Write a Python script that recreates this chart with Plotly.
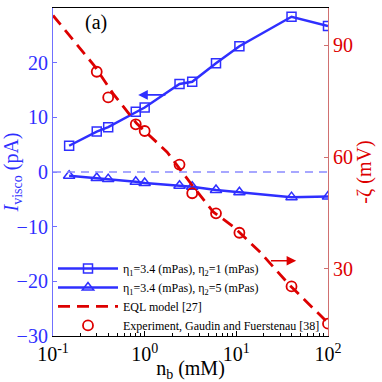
import plotly.graph_objects as go
import math

# ---- data ----
nb = [0.15, 0.3, 0.4, 0.8, 1.0, 2.4, 3.3, 6.0, 10.8, 40, 100]
i_visco_eta2_1 = [4.8, 7.4, 8.2, 11.0, 11.8, 16.1, 16.5, 19.9, 23.0, 28.4, 26.7]
i_visco_eta2_5 = [-0.7, -1.1, -1.3, -1.8, -2.0, -2.5, -2.7, -3.3, -3.7, -4.6, -4.5]
nb_exp = [0.3, 0.4, 0.8, 1.0, 2.4, 3.3, 6.0, 10.8, 40, 100]
zeta_exp = [82.9, 76.0, 68.8, 67.0, 58.0, 50.3, 44.9, 39.7, 25.3, 15.3]
nb_model = [0.1, 0.28, 0.45, 0.82, 1.75, 3.4, 5.6, 9.3, 18, 38, 100]
zeta_model = [98.0, 84.6, 77.1, 69.0, 61.4, 52.0, 45.3, 41.3, 34.6, 25.7, 15.5]
x_ticks = [0.1, 1, 10, 100]
x_ticktext = ["10<sup>-1</sup>", "10<sup>0</sup>", "10<sup>1</sup>", "10<sup>2</sup>"]
x_minor_ticks = [m * d for d in (0.1, 1, 10) for m in range(2, 10)]

BLUE = "#2f2fff"
RED = "#dd0000"
FONT = "Liberation Serif, Times New Roman, serif"

fig = go.Figure()
fig.add_trace(go.Scatter(
    x=nb, y=i_visco_eta2_1, mode="lines+markers",
    name="η<sub>1</sub>=3.4 (mPas), η<sub>2</sub>=1 (mPas)",
    line=dict(color=BLUE, width=2.5),
    marker=dict(symbol="square-open", size=9, color=BLUE, line=dict(width=1.5)),
))
fig.add_trace(go.Scatter(
    x=nb, y=i_visco_eta2_5, mode="lines+markers",
    name="η<sub>1</sub>=3.4 (mPas), η<sub>2</sub>=5 (mPas)",
    line=dict(color=BLUE, width=2.5),
    marker=dict(symbol="triangle-up-open", size=10, color=BLUE, line=dict(width=1.5)),
))
fig.add_trace(go.Scatter(
    x=nb_model, y=zeta_model, mode="lines", yaxis="y2",
    name="EQL model [27]",
    line=dict(color=RED, width=2.8, dash="12px,7px"),
))
fig.add_trace(go.Scatter(
    x=nb_exp, y=zeta_exp, mode="markers", yaxis="y2",
    name="Experiment, Gaudin and Fuerstenau [38]",
    marker=dict(symbol="circle-open", size=10, color=RED, line=dict(width=1.8)),
))

fig.add_hline(y=0, line=dict(color="#8a8aff", width=1.3, dash="8px,6px"))

fig.update_layout(
    width=382, height=382,
    margin=dict(l=53, r=54, t=8, b=46),
    paper_bgcolor="white", plot_bgcolor="white",
    font=dict(family=FONT, size=20, color="black"),
    showlegend=True,
    legend=dict(x=0, y=-0.012, xanchor="left", yanchor="bottom",
                bgcolor="rgba(0,0,0,0)", font=dict(size=12, family=FONT),
                tracegroupgap=0, itemwidth=60),
    xaxis=dict(type="log", range=[-1, 2], tickvals=x_ticks, ticktext=x_ticktext,
               showgrid=False, zeroline=False, showline=True, linecolor="black",
               linewidth=1, mirror=True, ticks="inside", ticklen=5, tickcolor="black",
               tickfont=dict(size=20, family=FONT, color="black"),
               minor=dict(tickmode="array", tickvals=x_minor_ticks, ticks="inside",
                          ticklen=3, tickcolor="black", showgrid=False),
               title=dict(text="n<sub>b</sub> (mM)", font=dict(size=20, family=FONT), standoff=3),
               automargin=False),
    yaxis=dict(range=[-30, 30], dtick=10, showgrid=False, zeroline=False,
               showline=True, linecolor="#7070ff", linewidth=1.2,
               ticks="inside", ticklen=4, tickcolor="#7070ff",
               tickfont=dict(size=20, family=FONT, color=BLUE),
               title=dict(text="<i>I</i><sub>visco</sub> (pA)", font=dict(size=20, family=FONT, color=BLUE), standoff=2),
               automargin=False),
    yaxis2=dict(range=[12, 100], overlaying="y", side="right", tickvals=[30, 60, 90],
                showgrid=False, zeroline=False, showline=True, linecolor="#d07070",
                linewidth=1.2, ticks="inside", ticklen=4, tickcolor="#d07070",
                tickfont=dict(size=20, family=FONT, color=RED),
                title=dict(text="-ζ (mV)", font=dict(size=20, family=FONT, color=RED), standoff=2),
                automargin=False),
)

fig.add_annotation(x=math.log10(0.85), y=14.1, xref="x", yref="y",
                   ax=math.log10(1.75), ay=14.1, axref="x", ayref="y",
                   showarrow=True, arrowhead=2, arrowsize=1.2, arrowwidth=1.6,
                   arrowcolor=BLUE, text="")
fig.add_annotation(x=math.log10(45), y=32.2, xref="x", yref="y2",
                   ax=math.log10(23), ay=32.2, axref="x", ayref="y2",
                   showarrow=True, arrowhead=2, arrowsize=1.2, arrowwidth=1.6,
                   arrowcolor=RED, text="")
fig.add_annotation(x=0.155, y=0.955, xref="paper", yref="paper", text="(a)",
                   xanchor="center", yanchor="middle",
                   showarrow=False, font=dict(size=20, family=FONT, color="black"))

fig.write_html("out.html", post_script="document.body.style.margin='0';",
               config={"displayModeBar": False})
